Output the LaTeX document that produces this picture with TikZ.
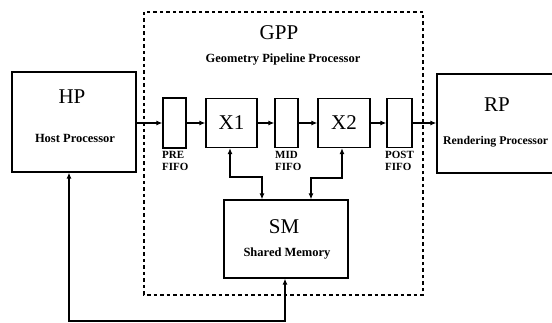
\documentclass[tikz,border=0pt]{standalone}
\usepackage{fontspec}
\setmainfont{Liberation Serif}
\usetikzlibrary{arrows.meta}
\begin{document}
\begin{tikzpicture}[x=1pt,y=-1pt,
  box/.style={draw,line width=1.2pt,inner sep=0pt,anchor=center},
  title/.style={font=\fontsize{21}{24}\selectfont,inner sep=0pt},
  sub/.style={font=\fontsize{12.5}{14}\selectfont\bfseries,inner sep=0pt},
  fifolbl/.style={font=\fontsize{11}{12.5}\selectfont\bfseries,inner sep=0pt,align=left,anchor=north west},
  conn/.style={line width=1.3pt,-{Latex[length=6pt,width=5pt]}},
  conn2/.style={line width=1.3pt,{Latex[length=6pt,width=5pt]}-{Latex[length=6pt,width=5pt]}},
  gppframe/.style={draw,line width=1.2pt,dash pattern=on 3.5pt off 3pt}]
\useasboundingbox (0,0) rectangle (552,323);
\clip (0,0) rectangle (552,323);
% GPP frame
\draw[gppframe] (144,12) rectangle (423,295);
\node[title] (gppt) at (279,33) {GPP};
\node[sub] (gpps) at (283,60) {Geometry Pipeline Processor};
% boxes
\node[box,minimum width=124pt,minimum height=100pt] (hp) at (74,122) {};
\node[title] (hpt) at (72,97) {HP};
\node[sub] (hps) at (75,138) {Host Processor};
\node[box,minimum width=23pt,minimum height=50pt] (pre) at (174.5,123) {};
\node[box,minimum width=51pt,minimum height=49pt] (x1) at (231.5,123) {};
\node[title] (x1t) at (231.5,123) {X1};
\node[box,minimum width=23pt,minimum height=49pt] (mid) at (286.5,123) {};
\node[box,minimum width=52pt,minimum height=49pt] (x2) at (344,123) {};
\node[title] (x2t) at (344,123) {X2};
\node[box,minimum width=25pt,minimum height=49pt] (post) at (399.5,123) {};
\node[box,minimum width=124pt,minimum height=99pt] (rp) at (499,123.5) {};
\node[title] (rpt) at (497,105) {RP};
\node[sub,font=\fontsize{11.8}{14}\selectfont\bfseries,anchor=west] (rps) at (443,142) {Rendering Processor};
\node[box,minimum width=124pt,minimum height=78pt] (sm) at (286,239) {};
\node[title] (smt) at (284,227) {SM};
\node[sub] (sms) at (287,254) {Shared Memory};
% FIFO labels
\node[fifolbl] (prel) at (162,151) {PRE\\FIFO};
\node[fifolbl] (midl) at (275,151) {MID\\FIFO};
\node[fifolbl] (postl) at (385,151) {POST\\FIFO};
% pipeline connectors
\draw[conn] (hp.east |- pre.west) -- (pre.west);
\draw[conn] (pre.east) -- (x1.west);
\draw[conn] (x1.east) -- (mid.west);
\draw[conn] (mid.east) -- (x2.west);
\draw[conn] (x2.east) -- (post.west);
\draw[conn] (post.east) -- (post.east -| rp.west);
% X1 <-> SM
\coordinate (b1) at (230,177);
\coordinate (c1) at (262,177);
\draw[conn2] (x1.south -| b1) -- (b1) -- (c1) -- (c1 |- sm.north);
% X2 <-> SM
\coordinate (b2) at (342,178);
\coordinate (c2) at (311,178);
\draw[conn2] (x2.south -| b2) -- (b2) -- (c2) -- (c2 |- sm.north);
% HP <-> SM
\coordinate (b3) at (69,321);
\coordinate (c3) at (285,321);
\draw[conn2] (hp.south -| b3) -- (b3) -- (c3) -- (c3 |- sm.south);
\end{tikzpicture}
\end{document}
